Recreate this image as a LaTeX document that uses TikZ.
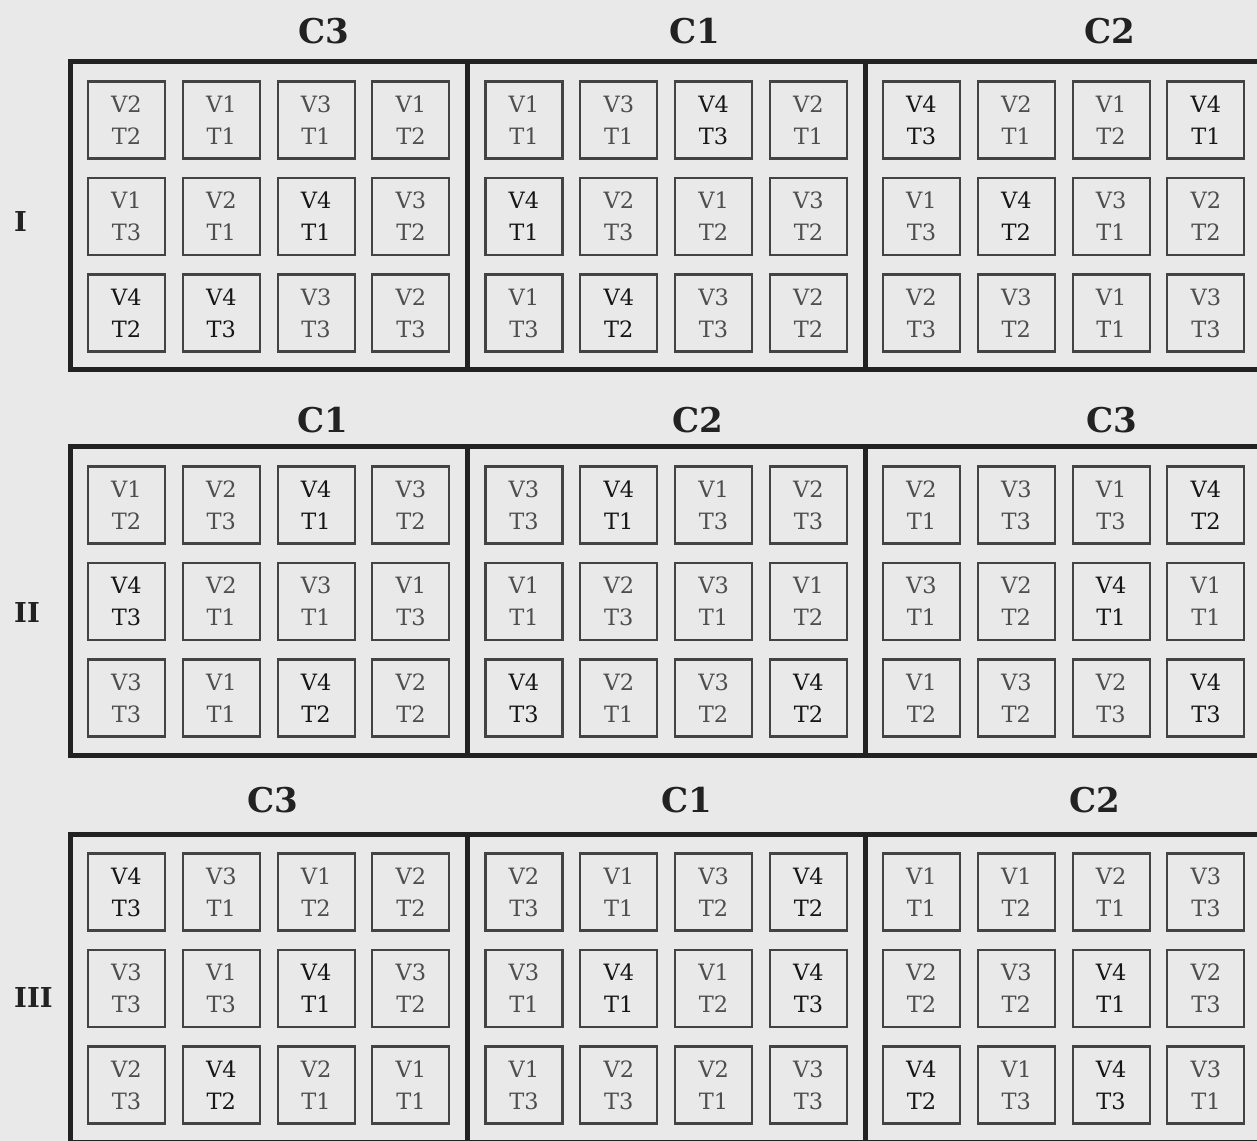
\documentclass[tikz,border=0pt]{standalone}
\usepackage{fontspec}
\usepackage{tikz}
\newfontfamily\serifo{DejaVu Serif}

\definecolor{sfondo}{RGB}{233,233,233}
\definecolor{bordo}{RGB}{34,34,34}
\definecolor{testo}{RGB}{78,78,78}
\definecolor{scuro}{RGB}{22,22,22}

\tikzset{
  parcella/.style={draw=bordo!85, line width=0.042cm, minimum width=1.54cm,
    minimum height=1.54cm, inner sep=0pt, align=center, text=testo,
    font=\serifo\fontsize{12.8}{18.2}\selectfont},
  var1/.style={}, var2/.style={}, var3/.style={},
  var4/.style={text=scuro},
  blocco/.style={draw=bordo, line width=0.1cm},
  tratt/.style={font=\serifo\fontsize{19.4}{24}\selectfont\bfseries, text=bordo},
  replica/.style={font=\serifo\fontsize{15.6}{20}\selectfont\bfseries, text=bordo, anchor=west},
}

\begin{document}
\begin{tikzpicture}[x=0.02cm, y=-0.02cm]
    % sfondo
    \fill[sfondo] (0,0) rectangle (1257,1141);
    \clip (0,0) rectangle (1257,1141);

    % blocchi e repliche
    \foreach \b/\yb/\rom/\ry in {1/62/I/222, 2/447/II/613, 3/834/III/998} {
        \draw[blocco] (70,\yb) rectangle (1300,\yb+308);
        \foreach \g in {1,2}
            \draw[blocco] (70+397.5*\g,\yb) -- (70+397.5*\g,\yb+308);
        \node[replica] (rep\b) at (8,\ry) {\rom};
    }

    % nomi delle colonne
    \foreach \lab/\x/\y [count=\n] in {C3/324/31, C1/695/31, C2/1110/31,
                                       C1/323/420, C2/698/420, C3/1112/420,
                                       C3/273/800, C1/687/800, C2/1095/800}
        \node[tratt] (col\n) at (\x,\y) {\lab};

    % parcelle (V/T)
    \foreach \b/\yb/\g/\dati in {
        1/62/0/{2/2,1/1,3/1,1/2, 1/3,2/1,4/1,3/2, 4/2,4/3,3/3,2/3},
        1/62/1/{1/1,3/1,4/3,2/1, 4/1,2/3,1/2,3/2, 1/3,4/2,3/3,2/2},
        1/62/2/{4/3,2/1,1/2,4/1, 1/3,4/2,3/1,2/2, 2/3,3/2,1/1,3/3},
        2/447/0/{1/2,2/3,4/1,3/2, 4/3,2/1,3/1,1/3, 3/3,1/1,4/2,2/2},
        2/447/1/{3/3,4/1,1/3,2/3, 1/1,2/3,3/1,1/2, 4/3,2/1,3/2,4/2},
        2/447/2/{2/1,3/3,1/3,4/2, 3/1,2/2,4/1,1/1, 1/2,3/2,2/3,4/3},
        3/834/0/{4/3,3/1,1/2,2/2, 3/3,1/3,4/1,3/2, 2/3,4/2,2/1,1/1},
        3/834/1/{2/3,1/1,3/2,4/2, 3/1,4/1,1/2,4/3, 1/3,2/3,2/1,3/3},
        3/834/2/{1/1,1/2,2/1,3/3, 2/2,3/2,4/1,2/3, 4/2,1/3,4/3,3/1}} {
        \foreach \v/\t [count=\k from 0] in \dati {
            \pgfmathtruncatemacro\riga{int(\k/4)}
            \pgfmathtruncatemacro\col{mod(\k,4)}
            \node[parcella, var\v] (p\b-\g-\k)
                at (126.5+397.5*\g+94.8*\col, \yb+58+96.5*\riga) {V\v\\T\t};
        }
    }
\end{tikzpicture}
\end{document}
